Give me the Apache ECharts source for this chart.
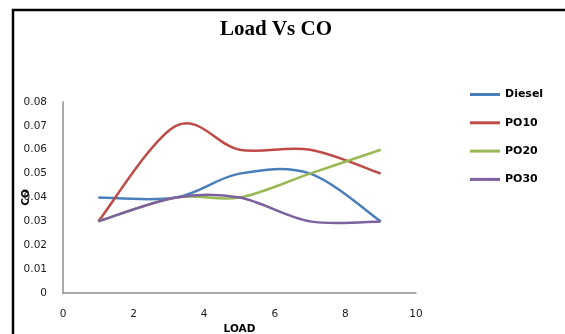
<!DOCTYPE html>
<html>
<head>
<meta charset="utf-8">
<script src="https://cdn.jsdelivr.net/npm/echarts@6/dist/echarts.min.js"></script>
<style>
  html, body { margin: 0; padding: 0; background: #fff; }
  #chart { width: 565px; height: 334px; }
</style>
</head>
<body>
<div id="chart"></div>
<script>
// Load steps and CO emission readings for each fuel blend
var loads = [1, 3.2, 5, 7, 9];
var diesel = [0.04, 0.04, 0.05, 0.05, 0.03];
var po10 = [0.03, 0.07, 0.06, 0.06, 0.05];
var po20 = [0.03, 0.04, 0.04, 0.05, 0.06];
var po30 = [0.03, 0.04, 0.04, 0.03, 0.03];
var seriesNames = ['Diesel', 'PO10', 'PO20', 'PO30'];
var seriesColors = ['#4A7EBB', '#BE4B48', '#98B954', '#7D60A0'];
var xTicks = [0, 2, 4, 6, 8, 10];
var yTicks = [0, 0.01, 0.02, 0.03, 0.04, 0.05, 0.06, 0.07, 0.08];

var allValues = [diesel, po10, po20, po30];

function pairs(vals) {
  return loads.map(function (x, i) { return [x, vals[i]]; });
}

// Cardinal (Catmull-Rom) spline through the projected points, spreadsheet-style smoothing
function splinePath(pts) {
  var d = 'M' + pts[0][0] + ' ' + pts[0][1];
  for (var i = 0; i < pts.length - 1; i++) {
    var p0 = pts[Math.max(i - 1, 0)];
    var p1 = pts[i];
    var p2 = pts[i + 1];
    var p3 = pts[Math.min(i + 2, pts.length - 1)];
    var c1x = p1[0] + (p2[0] - p0[0]) / 6, c1y = p1[1] + (p2[1] - p0[1]) / 6;
    var c2x = p2[0] - (p3[0] - p1[0]) / 6, c2y = p2[1] - (p3[1] - p1[1]) / 6;
    d += ' C' + c1x + ' ' + c1y + ' ' + c2x + ' ' + c2y + ' ' + p2[0] + ' ' + p2[1];
  }
  return d;
}

var chart = echarts.init(document.getElementById('chart'), null, { renderer: 'canvas' });

var tickFont = { fontFamily: 'DejaVu Sans', fontSize: 10.5, color: '#1a1a1a' };
var nameFont = { fontFamily: 'DejaVu Sans', fontSize: 10.5, fontWeight: 'bold', color: '#000' };

chart.setOption({
  animation: false,
  backgroundColor: '#fff',
  title: {
    text: 'Load Vs CO',
    left: 271,
    top: 14,
    textAlign: 'center',
    textStyle: { fontFamily: 'Liberation Serif', fontWeight: 'bold', fontSize: 21, color: '#000' }
  },
  graphic: [{
    type: 'rect',
    shape: { x: 13, y: 10, width: 700, height: 500 },
    style: { fill: 'none', stroke: '#000', lineWidth: 2.5 },
    silent: true,
    z: 100
  }],
  legend: {
    orient: 'vertical',
    left: 465,
    top: 84,
    itemWidth: 30,
    itemHeight: 3,
    itemGap: 17.3,
    icon: 'rect',
    data: seriesNames,
    textStyle: { fontFamily: 'DejaVu Sans', fontSize: 11, fontWeight: 'bold', color: '#000' }
  },
  grid: { left: 63, right: 149, top: 102, bottom: 41, containLabel: false, outerBoundsMode: 'none' },
  xAxis: {
    type: 'value',
    min: xTicks[0],
    max: xTicks[xTicks.length - 1],
    interval: 2,
    name: 'LOAD',
    nameLocation: 'middle',
    nameGap: 31,
    nameMoveOverlap: false,
    nameTextStyle: nameFont,
    axisLine: { show: true, lineStyle: { color: '#8c8c8c', width: 1.5 } },
    axisTick: { show: false },
    splitLine: { show: false },
    axisLabel: Object.assign({ margin: 16 }, tickFont)
  },
  yAxis: {
    type: 'value',
    min: yTicks[0],
    max: yTicks[yTicks.length - 1],
    interval: 0.01,
    name: 'CO',
    nameLocation: 'middle',
    nameRotate: 90,
    nameGap: 31,
    nameMoveOverlap: false,
    nameTextStyle: nameFont,
    axisLine: { show: true, lineStyle: { color: '#8c8c8c', width: 1.5 } },
    axisTick: { show: false },
    splitLine: { show: false },
    axisLabel: Object.assign({ margin: 16, formatter: function (v) { return v === 0 ? '0' : v.toFixed(2); } }, tickFont)
  },
  series: seriesNames.map(function (name, i) {
    var vals = allValues[i];
    return {
      name: name,
      type: 'custom',
      data: pairs(vals),
      encode: { x: 0, y: 1 },
      itemStyle: { color: seriesColors[i] },
      renderItem: function (params, api) {
        if (params.dataIndex !== 0) return null;
        var pts = loads.map(function (x, k) { return api.coord([x, vals[k]]); });
        return {
          type: 'path',
          shape: { pathData: splinePath(pts) },
          style: { fill: 'none', stroke: seriesColors[i], lineWidth: 2.5 }
        };
      }
    };
  })
});
</script>
</body>
</html>
